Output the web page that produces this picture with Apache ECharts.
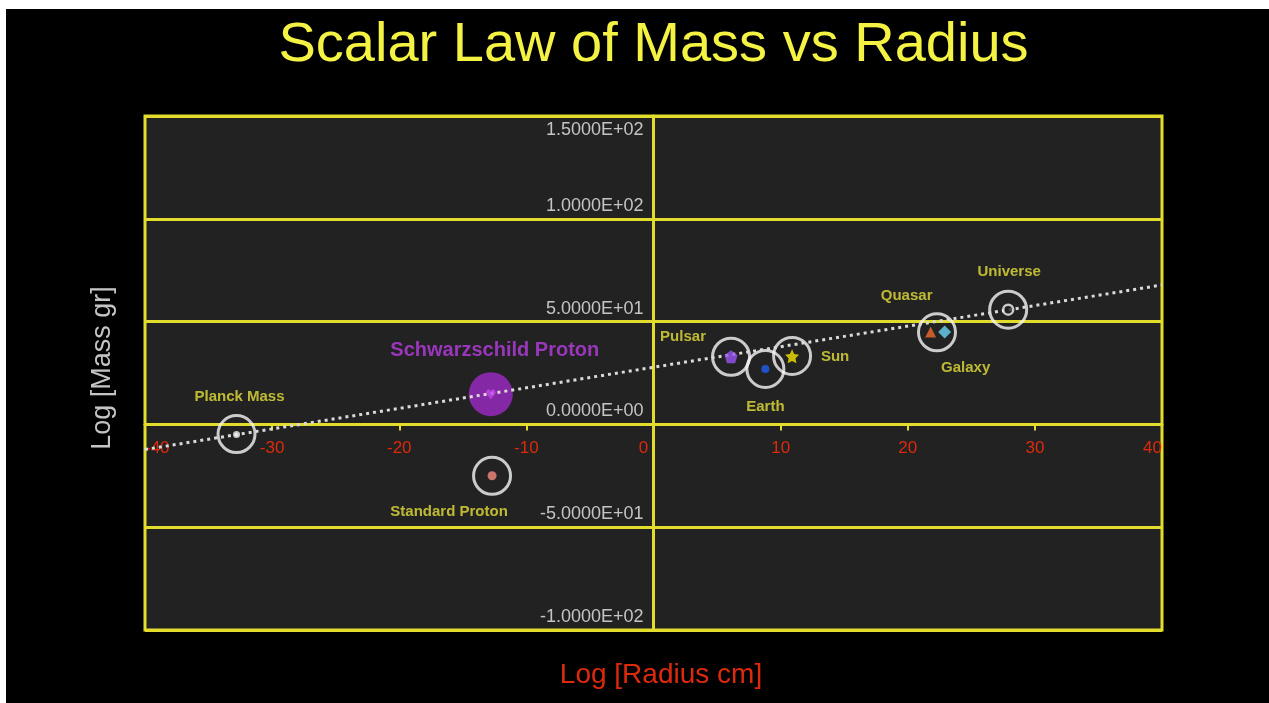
<!DOCTYPE html>
<html>
<head>
<meta charset="utf-8">
<title>Scalar Law of Mass vs Radius</title>
<script src="https://cdn.jsdelivr.net/npm/echarts@6/dist/echarts.min.js"></script>
<style>
  html, body { margin: 0; padding: 0; background: #fff; width: 1269px; height: 703px; overflow: hidden; }
  #chart { position: absolute; left: 6px; top: 9px; width: 1263px; height: 694px; background: #000; }
</style>
</head>
<body>
<div id="chart"></div>
<script>
  // objects plotted on the scalar law (log10 radius in cm, log10 mass in g)
  const objects = ['Planck Mass', 'Schwarzschild Proton', 'Standard Proton', 'Pulsar', 'Earth', 'Sun', 'Quasar', 'Galaxy', 'Universe'];
  const logRadius = [-32.8, -12.8, -12.7, 6.1, 8.8, 10.9, 21.8, 22.9, 27.9];
  const logMass = [-4.9, 14.7, -25.0, 32.9, 27.0, 33.1, 45.0, 45.0, 55.8];

  // white rings drawn round the objects (Quasar and Galaxy share one)
  const ringRadius = [-32.8, 6.1, 8.8, 10.9, 22.3, 27.9, -12.7];
  const ringMass = [-4.7, 32.9, 27.0, 33.3, 44.8, 55.8, -25.0];

  // the dotted law line, read at the two plot edges
  const lawRadius = [-40, 40];
  const lawMass = [-12.2, 67.8];

  const xRange = [-40, 40];
  const xStep = 10;
  const yRange = [-100, 150];
  const yStep = 50;

  const YELLOW = '#e2dd2c';
  const LABEL = '#e6e03a';
  const FONT = '"Liberation Sans", Arial, sans-serif';

  const GRID = { left: 139, top: 107, width: 1017, height: 514 };
  // axes sit on the zero lines, labels included
  const yAxisShift = -GRID.width * (0 - xRange[0]) / (xRange[1] - xRange[0]);
  const xAxisShift = -GRID.height * (0 - yRange[0]) / (yRange[1] - yRange[0]);

  // marker look + label placement for each object
  const looks = {
    'Planck Mass': { symbol: 'circle', size: 7, color: '#f4f4f4', off: [3, -38] },
    'Schwarzschild Proton': { symbol: 'path://M0,10 L-9,0 L-7,-5 L-3,-6 L0,-3 L3,-6 L7,-5 L9,0 Z', size: 10, color: '#c24ae6', off: [4, -44], big: true },
    'Standard Proton': { symbol: 'circle', size: 9, color: '#f58a80', off: [-43, 36] },
    'Pulsar': { symbol: 'path://M0,-10 L9.5,-3 L6,8 L-6,8 L-9.5,-3 Z', size: 13, color: '#9a55f2', off: [-48, -20] },
    'Earth': { symbol: 'circle', size: 8, color: '#1f5ff0', off: [0, 38] },
    'Sun': { symbol: 'path://M0,-10 L2.9,-4 L9.5,-3.1 L4.7,1.5 L5.9,8.1 L0,5 L-5.9,8.1 L-4.7,1.5 L-9.5,-3.1 L-2.9,-4 Z', size: 14, color: '#f2e600', off: [43, 1] },
    'Quasar': { symbol: 'triangle', size: 11, color: '#f06a2e', off: [-24, -36] },
    'Galaxy': { symbol: 'diamond', size: 13, color: '#6cd6f6', off: [21, 36] },
    'Universe': { symbol: 'circle', size: 10, color: '#222', border: '#f4f4f4', off: [1, -38] }
  };

  function sci(v) {
    if (v === 0) return '0.0000E+00';
    const e = Math.floor(Math.log10(Math.abs(v)));
    const m = v / Math.pow(10, e);
    return m.toFixed(4) + 'E' + (e < 0 ? '-' : '+') + String(Math.abs(e)).padStart(2, '0');
  }

  const markData = objects.map(function (name, i) {
    const lk = looks[name];
    const big = !!lk.big;
    return {
      name: name,
      value: [logRadius[i], logMass[i]],
      symbol: lk.symbol,
      symbolSize: lk.size,
      itemStyle: lk.border
        ? { color: lk.color, borderColor: lk.border, borderWidth: 2.5 }
        : { color: lk.color },
      label: {
        show: true,
        position: 'inside',
        offset: lk.off,
        formatter: name,
        color: big ? '#b83ce2' : LABEL,
        fontSize: big ? 20 : 15,
        fontWeight: 'bold',
        fontFamily: FONT
      }
    };
  });

  const bigIdx = objects.indexOf('Schwarzschild Proton');

  const chart = echarts.init(document.getElementById('chart'));
  chart.setOption({
    backgroundColor: '#000',
    animation: false,
    graphic: [
      {
        type: 'text', x: 647.5, y: 37,
        style: {
          text: 'Scalar Law of Mass vs Radius',
          align: 'center', verticalAlign: 'middle',
          fill: '#f4f344', font: '56px ' + FONT
        }
      },
      {
        type: 'text', x: 97, y: 359, rotation: Math.PI / 2,
        style: {
          text: 'Log [Mass gr]', align: 'center', verticalAlign: 'middle',
          fill: '#c4c4c4', font: '27px ' + FONT
        }
      },
      {
        type: 'text', x: 655, y: 666,
        style: {
          text: 'Log [Radius cm]', align: 'center', verticalAlign: 'middle',
          fill: '#dd2a0c', font: '28px ' + FONT
        }
      }
    ],
    grid: {
      left: GRID.left, top: GRID.top, width: GRID.width, height: GRID.height,
      show: true, backgroundColor: '#222222',
      borderColor: YELLOW, borderWidth: 3
    },
    xAxis: {
      type: 'value', min: xRange[0], max: xRange[1], interval: xStep,
      position: 'bottom', offset: xAxisShift,
      axisLine: { onZero: false, lineStyle: { color: YELLOW, width: 3 } },
      axisTick: { show: true, length: 6, lineStyle: { color: YELLOW, width: 2 } },
      splitLine: { show: false },
      axisLabel: {
        color: '#dd2a0c', fontSize: 17, fontFamily: FONT, margin: 15,
        alignMinLabel: 'left', alignMaxLabel: 'right',
        formatter: function (v) { return v === 0 ? '{z|0}' : String(v); },
        rich: { z: { color: '#dd2a0c', fontSize: 17, fontFamily: FONT, padding: [0, 20, 0, 0] } }
      }
    },
    yAxis: {
      type: 'value', min: yRange[0], max: yRange[1], interval: yStep,
      position: 'left', offset: yAxisShift,
      axisLine: { onZero: false, lineStyle: { color: YELLOW, width: 3 } },
      axisTick: { show: false },
      splitLine: { show: true, lineStyle: { color: YELLOW, width: 3 } },
      axisLabel: {
        color: '#c4c4c4', fontSize: 18, fontFamily: FONT, margin: 10,
        verticalAlign: 'bottom', verticalAlignMaxLabel: 'top',
        padding: [5, 0, 4, 0],
        formatter: sci
      }
    },
    series: [
      {
        type: 'scatter', silent: true, z: 2,
        symbol: 'circle', symbolSize: 44,
        itemStyle: { color: '#9d2ac8' },
        data: [[logRadius[bigIdx], logMass[bigIdx]]]
      },
      {
        type: 'scatter', silent: true, z: 2,
        symbol: 'circle', symbolSize: 37,
        itemStyle: { color: 'rgba(0,0,0,0)', borderColor: '#f6f6f6', borderWidth: 3 },
        data: ringRadius.map(function (x, i) { return [x, ringMass[i]]; })
      },
      {
        type: 'line', silent: true, z: 3,
        showSymbol: false,
        lineStyle: { color: '#dadada', width: 3, type: [3, 4], cap: 'butt' },
        data: lawRadius.map(function (x, i) { return [x, lawMass[i]]; })
      },
      {
        type: 'scatter', silent: true, z: 4,
        data: markData
      }
    ]
  });
</script>
</body>
</html>
